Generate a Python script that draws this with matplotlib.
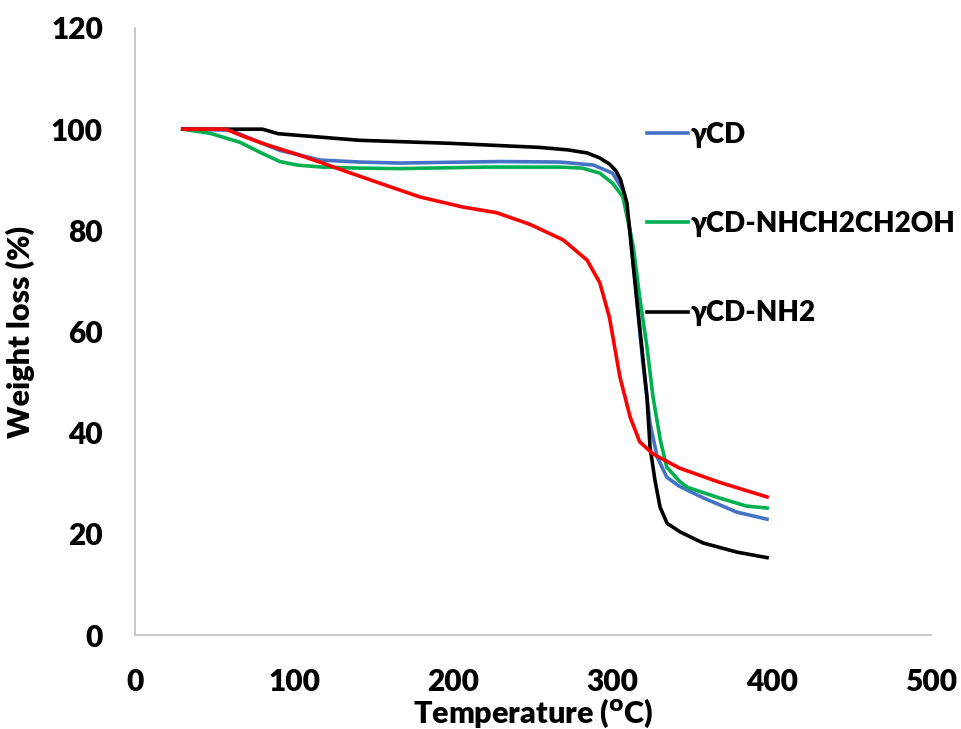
import matplotlib
matplotlib.use("Agg")
import matplotlib.pyplot as plt

# === TGA data (temperature in C, weight %) ===
t_cd = [30, 60, 80, 91, 102, 116, 141, 166, 229, 267, 288, 300, 306.5, 311, 315, 319,
        323.5, 328, 334, 342, 357, 378, 397]
w_cd = [100, 99.8, 97.2, 95.8, 95.0, 93.9, 93.5, 93.3, 93.6, 93.5, 92.9, 91.3, 87.9, 80,
        66.8, 53.8, 41.9, 35.2, 31.2, 29.4, 27.1, 24.3, 22.9]

t_oh = [30, 47, 66, 80, 91, 102, 118, 141, 166, 220, 267, 281, 292, 300, 306.5, 313, 317,
        321.6, 325.4, 330, 334, 342, 347, 367, 384, 397]
w_oh = [100, 99.2, 97.4, 95.2, 93.6, 92.9, 92.5, 92.3, 92.2, 92.5, 92.5, 92.3, 91.3, 89.3,
        86.6, 76.7, 66.8, 56.9, 47, 38.5, 33.2, 30.4, 29.2, 27.1, 25.5, 25.1]

t_nh2 = [30, 80, 90, 141, 198, 254, 272, 284, 292, 298, 302, 305, 309, 312.8, 317.2,
         321.6, 323.5, 326.6, 329.8, 334.2, 342.3, 356.8, 378, 397]
w_nh2 = [100, 100, 99.1, 97.8, 97.2, 96.4, 95.9, 95.3, 94.3, 93.1, 91.8, 90.0, 85.4,
         73.5, 60.3, 47, 37.2, 30.6, 25.3, 22.1, 20.4, 18.2, 16.4, 15.3]

t_red = [30, 57, 68, 80, 91, 102, 116, 133, 154, 179, 206, 227, 248, 269, 284, 292,
         298, 304.6, 311, 317, 325.4, 342, 367, 397]
w_red = [100, 100, 98.6, 97.2, 96.1, 95.0, 93.5, 91.6, 89.3, 86.6, 84.6, 83.5, 81.2,
         78.1, 74.1, 69.6, 62.8, 51, 43.1, 38.2, 35.8, 33, 30.2, 27.3]

labels = ["γCD", "γCD-NHCH2CH2OH", "γCD-NH2"]
x_ticks = [0, 100, 200, 300, 400, 500]
y_ticks = [0, 20, 40, 60, 80, 100, 120]

plt.rcParams["font.family"] = ["Lato", "DejaVu Sans"]
plt.rcParams["font.weight"] = "bold"

fig = plt.figure(figsize=(9.62, 7.29), dpi=100)
ax = fig.add_axes([0.1403, 0.1289, 0.8275, 0.8327])

ax.plot(t_cd, w_cd, color="#4472c4", lw=2.6, label=labels[0])
ax.plot(t_oh, w_oh, color="#00b050", lw=2.6, label=labels[1])
ax.plot(t_nh2, w_nh2, color="#000000", lw=2.6, label=labels[2])
ax.plot(t_red, w_red, color="#ff0000", lw=2.6, label="_nolegend_")

ax.set_xlim(0, 500)
ax.set_ylim(0, 120)
ax.set_xticks(x_ticks)
ax.set_yticks(y_ticks)
ax.tick_params(length=0, labelsize=21.5)
ax.tick_params(axis="x", pad=24)
ax.tick_params(axis="y", pad=23)
for lbl in ax.get_xticklabels() + ax.get_yticklabels():
    lbl.set_fontweight("heavy")

for s in ["top", "right"]:
    ax.spines[s].set_visible(False)
for s in ["left", "bottom"]:
    ax.spines[s].set_color("#bfbfbf")
    ax.spines[s].set_linewidth(1.2)

ax.set_xlabel(r"Temperature (${}^{\mathbf{o}}$C)", fontsize=22, fontweight="heavy")
ax.set_ylabel("Weight loss (%)", fontsize=22, fontweight="heavy")
ax.xaxis.set_label_coords(0.5, -0.102)
ax.yaxis.set_label_coords(-0.125, 0.5)

leg = ax.legend(
    loc="upper left",
    bbox_to_anchor=(0.629, 0.864),
    frameon=False,
    fontsize=20,
    handlelength=1.5,
    handletextpad=0.08,
    labelspacing=2.28,
    borderaxespad=0,
)
for txt in leg.get_texts():
    txt.set_fontweight("heavy")

fig.savefig("out.png", dpi=100)
plt.close(fig)
